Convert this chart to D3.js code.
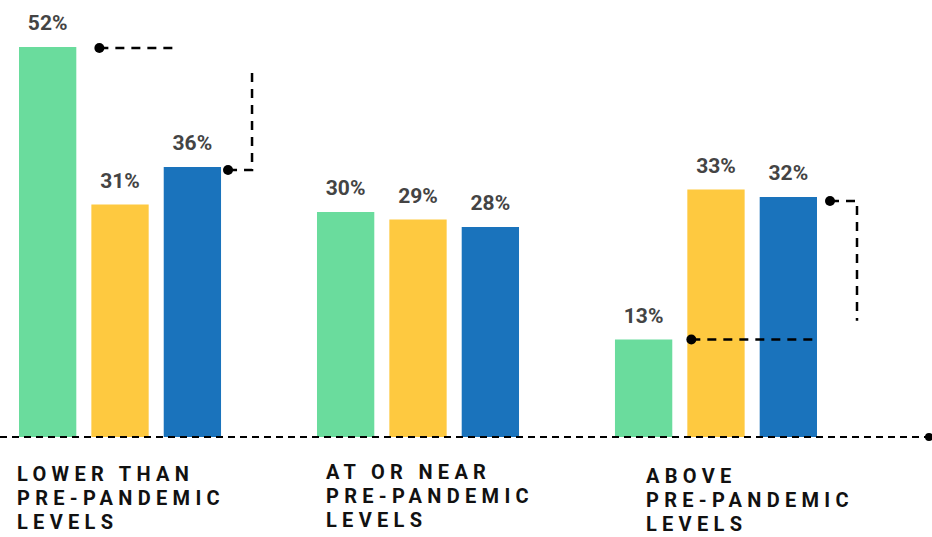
<!DOCTYPE html>
<html lang="en">
<head>
  <meta charset="UTF-8">
  <title>Pre-pandemic levels</title>
  <script src="https://d3js.org/d3.v7.min.js"></script>
  <style>
    body { margin:0; background:#fff; overflow:hidden; }
    svg { display:block; }
    .val { font: 700 21px Roboto, sans-serif; fill:#444; text-anchor:middle; }
    .cat { font: 700 20px Roboto, sans-serif; fill:#111; letter-spacing:5.3px; }
  </style>
</head>
<body>
  <script>
    // data
    const categories = ["LOWER THAN PRE-PANDEMIC LEVELS", "AT OR NEAR PRE-PANDEMIC LEVELS", "ABOVE PRE-PANDEMIC LEVELS"];
    const catLines = [["LOWER THAN", "PRE-PANDEMIC", "LEVELS"], ["AT OR NEAR", "PRE-PANDEMIC", "LEVELS"], ["ABOVE", "PRE-PANDEMIC", "LEVELS"]];
    const series = ["s1", "s2", "s3"];
    const values = [
      [52, 31, 36],
      [30, 29, 28],
      [13, 33, 32]
    ];
    const colors = ["#6adc9d", "#fec940", "#1a73bc"];

    const width = 932, height = 537;
    const baseY = 437;

    const svg = d3.select("body").append("svg")
      .attr("width", width).attr("height", height);

    const x0 = d3.scaleBand().domain(categories).range([19, 817]).paddingInner(0.322);
    const x1 = d3.scaleBand().domain(series).range([0, x0.bandwidth()]).paddingInner(0.208);
    const y = d3.scaleLinear().domain([0, 52]).range([baseY, 47]);

    const rows = categories.map((c, i) => series.map((s, j) => ({cat: c, ci: i, s, sj: j, v: values[i][j]})));

    const g = svg.selectAll("g.grp").data(rows).enter().append("g")
      .attr("transform", (d, i) => `translate(${x0(categories[i])},0)`);

    g.selectAll("rect").data(d => d).enter().append("rect")
      .attr("x", d => x1(d.s))
      .attr("y", d => y(d.v))
      .attr("width", x1.bandwidth())
      .attr("height", d => baseY - y(d.v))
      .attr("fill", d => colors[d.sj]);

    g.selectAll("text.val").data(d => d).enter().append("text")
      .attr("class", "val")
      .attr("x", d => x1(d.s) + x1.bandwidth() / 2)
      .attr("y", d => y(d.v) - 17)
      .text(d => d.v + "%");

    // baseline
    svg.append("line")
      .attr("x1", 0).attr("x2", 929).attr("y1", baseY).attr("y2", baseY)
      .attr("stroke", "#000").attr("stroke-width", 2).attr("stroke-dasharray", "7,5");
    svg.append("circle").attr("cx", 929).attr("cy", baseY).attr("r", 4).attr("fill", "#000");

    // category labels
    const labelDx = [-2, 9, 31];
    const labelY = [481, 479, 483];
    catLines.forEach((lines, i) => {
      const t = svg.append("text").attr("class", "cat");
      lines.forEach((l, k) => {
        t.append("tspan")
          .attr("x", x0(categories[i]) + labelDx[i])
          .attr("y", labelY[i] + k * 24)
          .text(l);
      });
    });

    // dashed connector annotations
    const bx = (ci, sj) => x0(categories[ci]) + x1(series[sj]);
    const annotations = [
      [[bx(0, 1) + 8, y(52) + 1], [bx(0, 2) + 15, y(52) + 1]],
      [[bx(0, 2) + x1.bandwidth() + 7, y(36) + 3], [bx(0, 2) + x1.bandwidth() + 31, y(36) + 3], [bx(0, 2) + x1.bandwidth() + 31, y(49.1)]],
      [[bx(2, 1) + 4, y(13)], [bx(2, 2) + x1.bandwidth() - 3, y(13)]],
      [[bx(2, 2) + x1.bandwidth() + 13, y(32) + 4], [bx(2, 2) + x1.bandwidth() + 40, y(32) + 4], [bx(2, 2) + x1.bandwidth() + 40, y(15.5)]]
    ];
    const line = d3.line();
    annotations.forEach(pts => {
      svg.append("path")
        .attr("d", line(pts))
        .attr("fill", "none").attr("stroke", "#000")
        .attr("stroke-width", 2.5).attr("stroke-dasharray", "9,7");
      svg.append("circle")
        .attr("cx", pts[0][0]).attr("cy", pts[0][1]).attr("r", 5).attr("fill", "#000");
    });
  </script>
</body>
</html>
